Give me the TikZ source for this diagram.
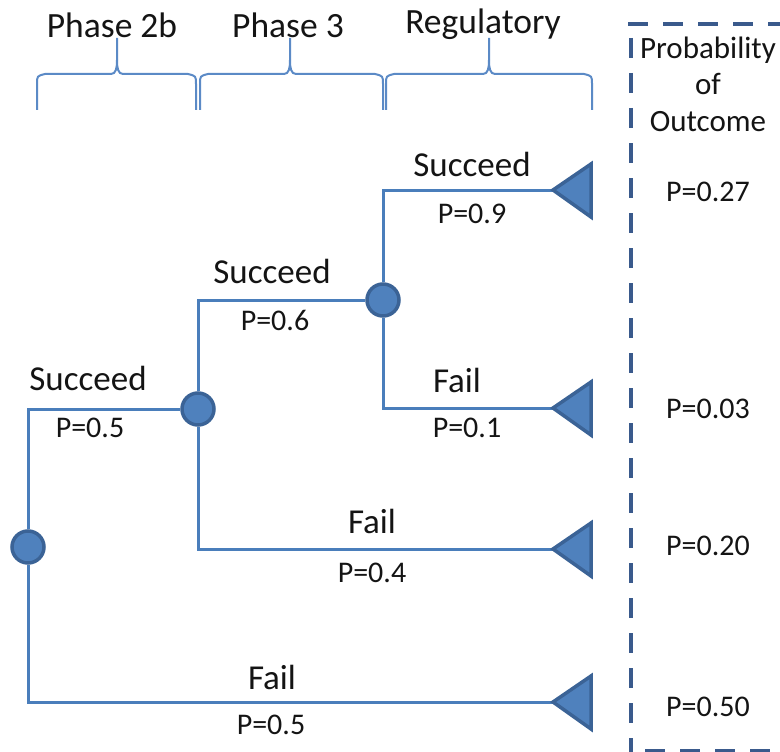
\documentclass[tikz,border=0pt]{standalone}
\usepackage{fontspec}
\setmainfont{Carlito}
\begin{document}
\begin{tikzpicture}[x=1pt,y=-1pt,
  branch/.style={draw=branchblue,line width=3pt},
  dot/.style={circle,draw=dotedge,fill=dotfill,line width=3.5pt,minimum size=32pt,inner sep=0pt},
  tri/.style={draw=dotedge,fill=dotfill,line width=3.5pt,line join=miter},
  lbl/.style={text=txt,font=\fontsize{35}{38}\selectfont,inner sep=0pt,anchor=center},
  hlbl/.style={text=txt,font=\fontsize{35.5}{38}\selectfont,inner sep=0pt,anchor=center},
  plbl/.style={text=txt,font=\fontsize{30}{34}\selectfont,inner sep=0pt,anchor=center},
  phasebrace/.style={draw=braceblue,line width=2pt},
  outbox/.style={draw=boxblue,line width=4pt,dash pattern=on 20pt off 15pt}
]
\definecolor{branchblue}{HTML}{4A7EBB}
\definecolor{dotfill}{HTML}{4F81BD}
\definecolor{dotedge}{HTML}{3B6396}
\definecolor{braceblue}{HTML}{5B8AC6}
\definecolor{boxblue}{HTML}{3A5A8C}
\definecolor{txt}{HTML}{141414}
\useasboundingbox (0,0) rectangle (780,752);

% headers
\node[hlbl] (h1) at (112,25) {Phase 2b};
\node[hlbl] (h2) at (288,25) {Phase 3};
\node[hlbl] (h3) at (483,24) {Regulatory};

% braces
\draw[phasebrace] (37,110) -- (37,84) .. controls (37,76) .. (45,74) -- (111,74)
  .. controls (116,74) and (117,68) .. (117,60) -- (117,38);
\draw[phasebrace] (117,60) .. controls (117,68) and (118,74) .. (123,74) -- (188,74)
  .. controls (196,76) .. (196,84) -- (196,110);
\draw[phasebrace] (200,110) -- (200,84) .. controls (200,76) .. (208,74) -- (284,74)
  .. controls (289,74) and (290,68) .. (290,60) -- (290,38);
\draw[phasebrace] (290,60) .. controls (290,68) and (291,74) .. (296,74) -- (375,74)
  .. controls (383,76) .. (383,84) -- (383,110);
\draw[phasebrace] (386,110) -- (386,84) .. controls (386,76) .. (394,74) -- (483,74)
  .. controls (488,74) and (489,68) .. (489,60) -- (489,38);
\draw[phasebrace] (489,60) .. controls (489,68) and (490,74) .. (495,74) -- (584,74)
  .. controls (592,76) .. (592,84) -- (592,110);

% outcome box
\draw[outbox] (628,24) -- (790,24);
\draw[outbox] (631,38) -- (631,760);
\draw[outbox] (645,751) -- (790,751);
\node[plbl,align=center,font=\fontsize{31}{36.5}\selectfont] (ptitle) at (708,84) {Probability\\of\\Outcome};
\node[plbl] (o1) at (708,192) {P=0.27};
\node[plbl] (o2) at (708,409) {P=0.03};
\node[plbl] (o3) at (708,546) {P=0.20};
\node[plbl] (o4) at (708,707) {P=0.50};

% terminal tips
\coordinate (t1) at (553,190);
\coordinate (t2) at (553,408);
\coordinate (t3) at (553,549);
\coordinate (t4) at (553,702);

% chance nodes
\node[dot] (c1) at (28,547) {};
\node[dot] (c2) at (198,409) {};
\node[dot] (c3) at (383,300) {};

% branches
\draw[branch] (c1) |- (c2);
\draw[branch] (c1) |- (t4);
\draw[branch] (c2) |- (c3);
\draw[branch] (c2) |- (t3);
\draw[branch] (c3) |- (t1);
\draw[branch] (c3) |- (t2);

% triangles
\foreach \t in {t1,t2,t3,t4}
  \draw[tri] (\t) -- ++(38,-26) -- ++(0,53) -- cycle;

% labels
\node[lbl] (s1) at (88,378) {Succeed};
\node[plbl] (p1) at (90,428) {P=0.5};
\node[lbl] (s2) at (272,271) {Succeed};
\node[plbl] (p2) at (275,320) {P=0.6};
\node[lbl] (s3) at (472,164) {Succeed};
\node[plbl] (p3) at (472,214) {P=0.9};
\node[lbl] (f3) at (457,380) {Fail};
\node[plbl] (q3) at (467,428) {P=0.1};
\node[lbl] (f2) at (372,521) {Fail};
\node[plbl] (q2) at (372,573) {P=0.4};
\node[lbl] (f1) at (272,677) {Fail};
\node[plbl] (q1) at (271,725) {P=0.5};
\end{tikzpicture}
\end{document}
